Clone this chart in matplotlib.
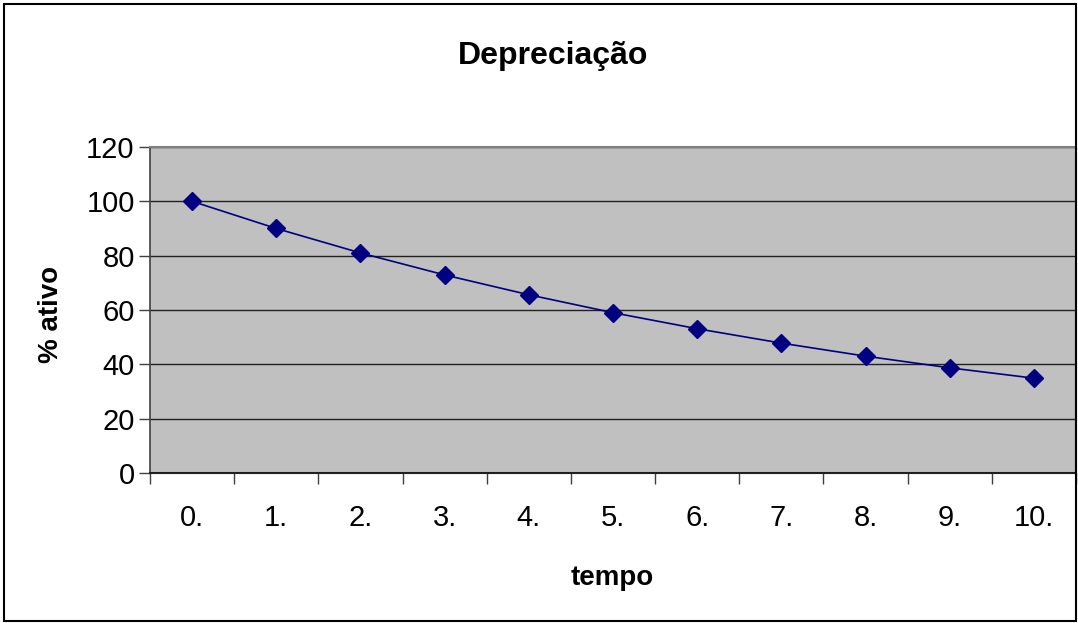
import matplotlib

matplotlib.use("Agg")
import matplotlib.pyplot as plt
from matplotlib.patches import Rectangle

# dados
categorias = ["0.", "1.", "2.", "3.", "4.", "5.", "6.", "7.", "8.", "9.", "10."]
pct_ativo = [100, 90, 81, 72.9, 65.6, 59.0, 53.1, 47.8, 43.0, 38.7, 34.9]
y_ticks = [0, 20, 40, 60, 80, 100, 120]

plt.rcParams['font.family'] = ['Liberation Sans', 'DejaVu Sans']

fig = plt.figure(figsize=(10.78, 6.23), dpi=100)
fig.patch.set_facecolor('white')
fig.patches.append(Rectangle((0.004, 0.003), 0.994, 0.99, transform=fig.transFigure,
                             fill=False, edgecolor='black', linewidth=1.5))

ax = fig.add_axes([0.1391, 0.2408, 0.8591, 0.5233])
ax.set_facecolor('#C0C0C0')

x = list(range(len(categorias)))
ax.plot(x, pct_ativo, color='#000080', linewidth=1.2, marker='D', markersize=9,
        markerfacecolor='#000080', markeredgecolor='#000080', zorder=5)

ax.set_xlim(-0.5, len(categorias) - 0.5)
ax.set_ylim(0, 120)
ax.set_yticks(y_ticks)
ax.set_yticklabels([str(v) for v in y_ticks], fontsize=21)
ax.yaxis.grid(True, color='#202020', linewidth=1.0)
ax.set_axisbelow(True)

# categorias centradas, marcas nas fronteiras
ax.set_xticks([i - 0.5 for i in range(len(categorias) + 1)])
ax.set_xticklabels([])
ax.set_xticks(x, minor=True)
ax.set_xticklabels(categorias, minor=True, fontsize=21)
ax.tick_params(axis='x', which='major', direction='out', length=8, width=1, color='#404040')
ax.tick_params(axis='x', which='minor', length=0, pad=22)
ax.tick_params(axis='y', direction='out', length=8, width=1, color='#404040', pad=3)

for side in ['top', 'right']:
    ax.spines[side].set_color('#808080')
    ax.spines[side].set_linewidth(1.5)
ax.spines['left'].set_color('#404040')
ax.spines['bottom'].set_color('#202020')
ax.spines['left'].set_linewidth(1.2)
ax.spines['bottom'].set_linewidth(1.5)

fig.text(0.513, 0.91, "Depreciação", ha='center', va='center', fontsize=23, fontweight='bold')
fig.text(0.568, 0.072, "tempo", ha='center', va='center', fontsize=20, fontweight='bold')
fig.text(0.047, 0.495, "% ativo", ha='center', va='center', fontsize=20, fontweight='bold', rotation=90)

fig.savefig("out.png", dpi=100, facecolor='white')
